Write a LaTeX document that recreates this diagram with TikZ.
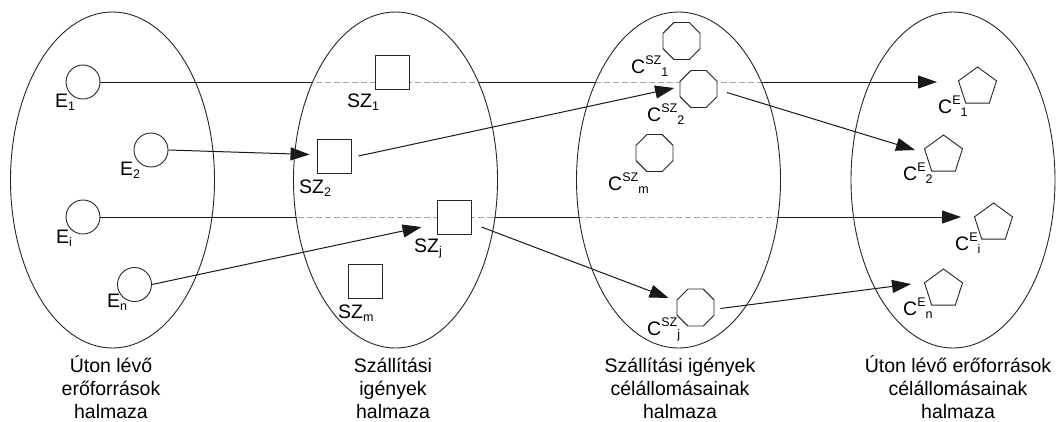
\documentclass[tikz,border=0pt]{standalone}
\usepackage{fontspec}
\setmainfont{Liberation Sans}
\usetikzlibrary{shapes.geometric,arrows.meta,backgrounds}

% symbol with optional raised and lowered index, set one after the other
\newcommand{\idx}[3]{#1\raisebox{8.5pt}{\fontsize{12.5}{12.5}\selectfont #2}\raisebox{-3pt}{\fontsize{12.5}{12.5}\selectfont #3}}

\begin{document}
\begin{tikzpicture}[x=1pt,y=-1pt,
  every node/.style={font=\fontsize{19.5}{23}\selectfont},
  setbox/.style={draw=black!85, ellipse, line width=0.9pt, inner sep=0pt,
                 minimum width=204pt, minimum height=336pt},
  src/.style={draw=black!85, circle, fill=white, line width=0.9pt, inner sep=0pt, minimum size=34pt},
  req/.style={draw=black!85, rectangle, fill=white, line width=0.9pt, inner sep=0pt, minimum size=34pt},
  oct/.style={draw=black!85, regular polygon, regular polygon sides=8, fill=white,
              line width=0.9pt, inner sep=0pt, minimum size=40pt},
  pent/.style={draw=black!85, regular polygon, regular polygon sides=5, fill=white,
               line width=0.9pt, inner sep=0pt, minimum size=40pt},
  lbl/.style={anchor=base west, inner sep=0pt},
  settitle/.style={align=center, anchor=base, inner sep=0pt},
  arr/.style={draw=black!90, line width=1pt, -{Triangle[length=19pt,width=13pt]}},
  eraser/.style={draw=white, line width=2.6pt},
  hiddenline/.style={draw=black!35, line width=1pt, dash pattern=on 6pt off 3pt}
]
\useasboundingbox (0,0) rectangle (1056,421);

% the four sets
\node[setbox] (S1) at (112.5,180) {};
\node[setbox] (S2) at (395.5,180) {};
\node[setbox] (S3) at (678.5,180) {};
\node[setbox] (S4) at (953,180) {};

% resources on the way
\node[src] (E1) at (83,82) {};
\node[src] (E2) at (151,150) {};
\node[src] (Ei) at (83,217) {};
\node[src] (En) at (134.5,284.5) {};
\node[lbl] (lE1) at (55,107) {\idx{E}{}{1}};
\node[lbl] (lE2) at (120,175) {\idx{E}{}{2}};
\node[lbl] (lEi) at (56,243) {\idx{E}{}{i}};
\node[lbl] (lEn) at (107,307) {\idx{E}{}{n}};

% transport requests
\node[req] (SZ1) at (392.5,72) {};
\node[req] (SZ2) at (334.5,156) {};
\node[req] (SZj) at (454,217) {};
\node[req] (SZm) at (365.5,281) {};
\node[lbl] (lSZ1) at (347,107) {\idx{SZ}{}{1}};
\node[lbl] (lSZ2) at (299,193) {\idx{SZ}{}{2}};
\node[lbl] (lSZj) at (414,252) {\idx{SZ}{}{j}};
\node[lbl] (lSZm) at (338,318) {\idx{SZ}{}{m}};

% destinations of the requests
\node[oct] (C1) at (681.5,41) {};
\node[oct] (C2) at (698.5,89) {};
\node[oct] (Cm) at (654.5,153) {};
\node[oct] (Cj) at (695.5,307.5) {};
\node[lbl] (lC1) at (631,73) {\idx{C}{SZ}{1}};
\node[lbl] (lC2) at (647,121) {\idx{C}{SZ}{2}};
\node[lbl] (lCm) at (608,190) {\idx{C}{SZ}{m}};
\node[lbl] (lCj) at (647,335) {\idx{C}{SZ}{j}};

% destinations of the resources
\node[pent] (CE1) at (977.5,87) {};
\node[pent] (CE2) at (943.5,155) {};
\node[pent] (CEi) at (993.5,223) {};
\node[pent] (CEn) at (943.5,289) {};
\node[lbl] (lCE1) at (938,113) {\idx{C}{E}{1}};
\node[lbl] (lCE2) at (903,180) {\idx{C}{E}{2}};
\node[lbl] (lCEi) at (955,250) {\idx{C}{E}{i}};
\node[lbl] (lCEn) at (903,315) {\idx{C}{E}{n}};

% captions (anchored at the baseline of their last line)
\node[settitle] (t1) at (111,418) {Úton lévő\\erőforrások\\halmaza};
\node[settitle] (t2) at (393,418) {Szállítási\\igények\\halmaza};
\node[settitle] (t3) at (680,418) {Szállítási igények\\célállomásainak\\halmaza};
\node[settitle] (t4) at (958,418) {Úton lévő erőforrások\\célállomásainak\\halmaza};

\begin{pgfonlayer}{background}
  % direct runs of the resources, shown faded where they cross the middle sets
  \draw[arr, shorten >=23pt] (E1.east) -- (E1.east -| CE1.west);
  \draw[arr, shorten >=15pt] (Ei.east) -- (Ei.east -| CEi.west);
  \foreach \s in {S2,S3}{
    \begin{scope}
      \clip (\s.center) ellipse [x radius=101.5, y radius=167.5];
      \draw[eraser] (E1.east) -- (E1.east -| CE1.west);
      \draw[eraser] (Ei.east) -- (Ei.east -| CEi.west);
      \draw[hiddenline] (E1.east) -- (E1.east -| CE1.west);
      \draw[hiddenline] (Ei.east) -- (Ei.east -| CEi.west);
    \end{scope}
  }
  % assignments through the transport requests
  \draw[arr] (E2.east) -- ([shift={(-7.5,-1.5)}]SZ2.west);
  \draw[arr] ([shift={(6.5,0)}]SZ2.east) -- ([shift={(-5.5,-1)}]C2.west);
  \draw[arr] ([shift={(9.5,3.5)}]C2.east) -- ([shift={(-11,-5)}]CE2.west);
  \draw[arr] (En.east) -- ([shift={(-15,10)}]SZj.west);
  \draw[arr] ([shift={(10,10)}]SZj.east) -- ([shift={(-8,-9.5)}]Cj.west);
  \draw[arr] ([shift={(6,1)}]Cj.east) -- ([shift={(-15,-5)}]CEn.west);
\end{pgfonlayer}
\end{tikzpicture}
\end{document}
